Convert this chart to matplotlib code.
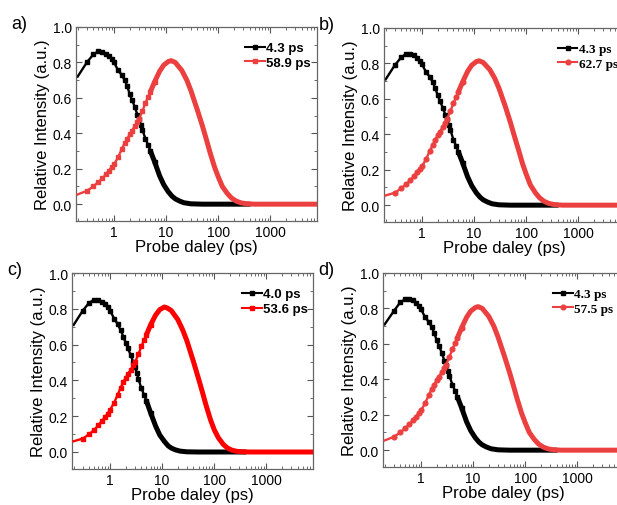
import numpy as np
import matplotlib
matplotlib.use("Agg")
import matplotlib.pyplot as plt
from matplotlib.ticker import FixedLocator, MultipleLocator, LogLocator, NullFormatter

# ---------------- data ----------------
x_black = [0.2, 0.3, 0.4, 0.5, 0.6, 0.7, 0.8, 0.9, 1.0, 1.2, 1.4, 1.6, 1.8, 2.0,
           2.2, 2.5, 2.8, 3.0, 3.3, 3.5, 4.0, 4.5, 5.0, 6.0, 7.5, 9.0, 11, 13, 15,
           18, 22, 30, 50, 100, 200, 400]
x_red = [0.2, 0.3, 0.4, 0.5, 0.6, 0.7, 0.8, 0.9, 1.0, 1.2, 1.4, 1.6, 1.8, 2.0,
         2.2, 2.5, 2.8, 3.0, 3.5, 4.0, 4.5, 5.0, 6.0, 7.5, 9.0, 11, 12.5, 15, 20,
         25, 30, 40, 50, 60, 70, 85, 100, 120, 150, 180, 220, 270, 350, 500,
         1000, 3000, 7900]

black_a = [0.72, 0.80, 0.845, 0.862, 0.86, 0.85, 0.835, 0.82, 0.80, 0.755, 0.73,
           0.70, 0.665, 0.62, 0.59, 0.55, 0.505, 0.48, 0.445, 0.42, 0.37, 0.335,
           0.30, 0.24, 0.16, 0.11, 0.07, 0.045, 0.03, 0.018, 0.008, 0.002, 0, 0, 0, 0]
red_a = [0.055, 0.075, 0.10, 0.125, 0.145, 0.17, 0.19, 0.21, 0.225, 0.265, 0.31,
         0.345, 0.37, 0.395, 0.415, 0.44, 0.465, 0.48, 0.525, 0.57, 0.605, 0.635,
         0.69, 0.75, 0.785, 0.805, 0.81, 0.80, 0.755, 0.70, 0.64, 0.53, 0.44,
         0.36, 0.29, 0.21, 0.155, 0.10, 0.06, 0.035, 0.018, 0.008, 0.002, 0, 0, 0, 0]

black_b = [0.71, 0.79, 0.835, 0.855, 0.855, 0.845, 0.83, 0.815, 0.795, 0.75, 0.725,
           0.695, 0.66, 0.62, 0.59, 0.55, 0.51, 0.485, 0.45, 0.425, 0.37, 0.335,
           0.30, 0.24, 0.16, 0.11, 0.07, 0.045, 0.03, 0.018, 0.008, 0.002, 0, 0, 0, 0]
red_b = [0.055, 0.07, 0.095, 0.12, 0.14, 0.165, 0.185, 0.205, 0.22, 0.26, 0.305,
         0.34, 0.37, 0.395, 0.415, 0.44, 0.465, 0.485, 0.53, 0.575, 0.61, 0.64,
         0.695, 0.755, 0.79, 0.81, 0.815, 0.805, 0.765, 0.715, 0.66, 0.555, 0.465,
         0.385, 0.32, 0.235, 0.175, 0.115, 0.07, 0.042, 0.022, 0.01, 0.003, 0, 0, 0, 0]

black_c = [0.71, 0.79, 0.835, 0.85, 0.85, 0.84, 0.825, 0.81, 0.79, 0.745, 0.715,
           0.68, 0.645, 0.61, 0.58, 0.54, 0.50, 0.475, 0.44, 0.41, 0.355, 0.32,
           0.285, 0.22, 0.145, 0.095, 0.06, 0.035, 0.022, 0.012, 0.005, 0.001, 0, 0, 0, 0]
red_c = [0.06, 0.075, 0.10, 0.125, 0.15, 0.175, 0.195, 0.215, 0.235, 0.275, 0.32,
         0.36, 0.39, 0.415, 0.435, 0.46, 0.485, 0.50, 0.545, 0.59, 0.625, 0.655,
         0.71, 0.765, 0.795, 0.81, 0.805, 0.79, 0.74, 0.68, 0.62, 0.505, 0.41,
         0.33, 0.26, 0.18, 0.125, 0.08, 0.042, 0.022, 0.01, 0.004, 0.001, 0, 0, 0, 0]

black_d = [0.71, 0.785, 0.835, 0.852, 0.852, 0.845, 0.83, 0.815, 0.795, 0.75, 0.725,
           0.695, 0.66, 0.62, 0.59, 0.55, 0.505, 0.48, 0.445, 0.42, 0.37, 0.335,
           0.30, 0.24, 0.16, 0.11, 0.07, 0.045, 0.03, 0.018, 0.008, 0.002, 0, 0, 0, 0]
red_d = [0.055, 0.075, 0.10, 0.125, 0.145, 0.17, 0.19, 0.21, 0.225, 0.265, 0.31,
         0.345, 0.37, 0.395, 0.415, 0.44, 0.465, 0.48, 0.525, 0.57, 0.605, 0.635,
         0.69, 0.75, 0.785, 0.805, 0.81, 0.80, 0.755, 0.70, 0.64, 0.53, 0.44,
         0.36, 0.29, 0.21, 0.155, 0.10, 0.06, 0.035, 0.018, 0.008, 0.002, 0, 0, 0, 0]

panel_tags = ["a)", "b)", "c)", "d)"]
black_labels = ["4.3 ps", "4.3 ps", "4.0 ps", "4.3 ps"]
red_labels = ["58.9 ps", "62.7 ps", "53.6 ps", "57.5 ps"]
black_series = [black_a, black_b, black_c, black_d]
red_series = [red_a, red_b, red_c, red_d]

x_ticks = [1, 10, 100, 1000]
x_ticklabels = ["1", "10", "100", "1000"]
y_ticks = [0.0, 0.2, 0.4, 0.6, 0.8, 1.0]

# ---------------- styling ----------------
W, H = 617, 506
fig = plt.figure(figsize=(W / 100, H / 100), dpi=100)
plt.rcParams['font.family'] = ['Liberation Sans', 'DejaVu Sans']

# axes boxes in pixels: left, top, width, height
boxes = [(76, 28, 241, 194), (384, 29, 241, 194), (72, 274, 241, 196), (383, 274, 241, 194)]
red_colors = ["#ec4040", "#ec4040", "#ff0000", "#ec4040"]
red_markers = ["s", "o", "s", "o"]
legend_fonts = ["Liberation Sans", "Liberation Serif", "Liberation Sans", "Liberation Serif"]
legend_x = [0.695, 0.715, 0.70, 0.70]
thr_black = 6.0
thr_red = 6.0

for i in range(4):
    l, t, w, h = boxes[i]
    ax = fig.add_axes([l / W, 1 - (t + h) / H, w / W, h / H])
    xb = np.array(x_black)
    xr = np.array(x_red)
    yb = np.array(black_series[i])
    yr = np.array(red_series[i])
    rc = red_colors[i]

    # thick merged band where markers overlap
    mb = xb >= thr_black * 0.8
    mr = xr >= thr_red * 0.8
    ax.plot(xb[mb], yb[mb], color="black", lw=3.6, solid_capstyle="round", zorder=2)
    ax.plot(xr[mr], yr[mr], color=rc, lw=3.6, solid_capstyle="round", zorder=3)

    ax.plot(xb, yb, color="black", lw=1.7, marker="s", ms=3.4,
            markevery=[k for k in range(len(xb)) if xb[k] <= thr_black and xb[k] > 0.2],
            label=black_labels[i], zorder=2)
    ax.plot(xr, yr, color=rc, lw=1.7, marker=red_markers[i], ms=3.4,
            markevery=[k for k in range(len(xr)) if xr[k] <= thr_red and xr[k] > 0.2],
            label=red_labels[i], zorder=3)

    ax.set_xscale("log")
    ax.set_xlim(0.186, 7900)
    ax.set_ylim(-0.095, 1.0)
    ax.xaxis.set_major_locator(FixedLocator(x_ticks))
    ax.set_xticklabels(x_ticklabels)
    ax.xaxis.set_minor_locator(LogLocator(base=10, subs=np.arange(2, 10) * 1.0, numticks=20))
    ax.xaxis.set_minor_formatter(NullFormatter())
    ax.yaxis.set_major_locator(FixedLocator(y_ticks))
    ax.set_yticklabels(["%.1f" % v for v in y_ticks])
    ax.yaxis.set_minor_locator(MultipleLocator(0.1))
    ax.tick_params(which="both", direction="in", top=True, right=True, labelsize=10,
                   color="#555555", pad=3)
    ax.tick_params(which="major", length=4, width=0.8)
    ax.tick_params(which="minor", length=2, width=0.6)
    for s in ax.spines.values():
        s.set_color("#666666")
        s.set_linewidth(0.9)

    ax.set_xlabel("Probe daley (ps)", fontsize=12, labelpad=0)
    ax.set_ylabel("Relative Intensity (a.u.)", fontsize=12, labelpad=1.5)

    leg = ax.legend(loc="upper left", bbox_to_anchor=(legend_x[i], 0.93), frameon=False,
                    handlelength=1.5, handletextpad=0.1, borderpad=0.1, labelspacing=0.2,
                    borderaxespad=0,
                    prop={"family": legend_fonts[i], "weight": "bold", "size": 9.5})
    for lh in leg.get_lines():
        lh.set_linewidth(1.5)

    ax.text(-0.27, 1.02, panel_tags[i], transform=ax.transAxes, fontsize=13,
            ha="left", va="center")

fig.savefig("out.png", dpi=100)
